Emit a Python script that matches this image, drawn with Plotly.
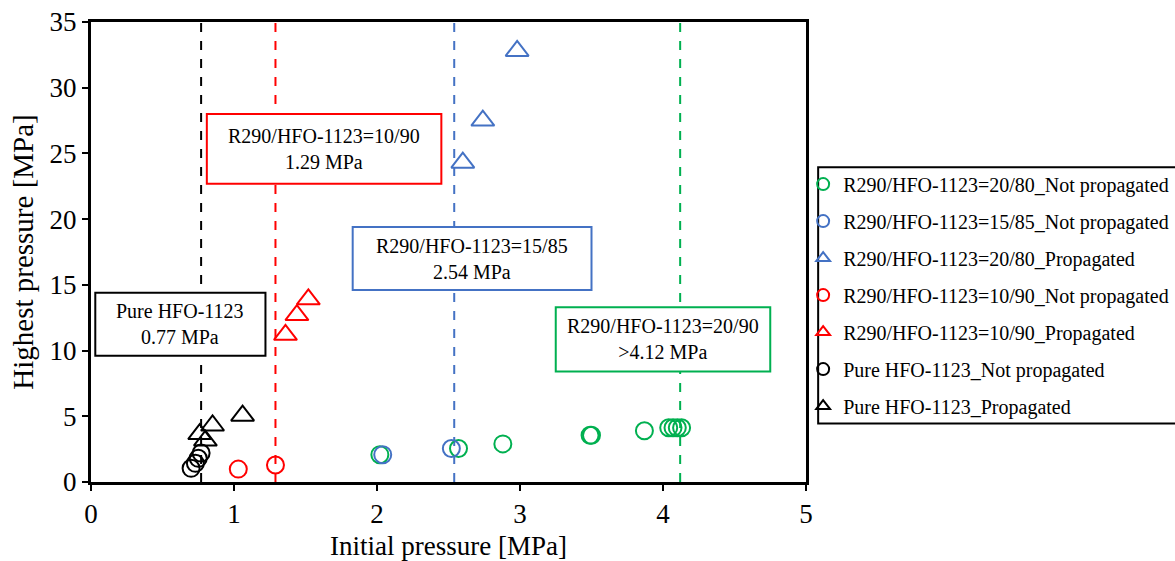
import plotly.graph_objects as go

# ---- measured data: initial pressure [MPa] vs highest pressure [MPa] ----
g_np_x = [2.02, 2.57, 2.88, 3.49, 3.50, 3.87, 4.04, 4.07, 4.10, 4.13]
g_np_y = [2.08, 2.55, 2.90, 3.55, 3.55, 3.90, 4.13, 4.13, 4.13, 4.13]

b_np_x = [2.04, 2.52]
b_np_y = [2.08, 2.55]

b_p_x = [2.60, 2.74, 2.98]
b_p_y = [24.3, 27.5, 32.8]

r_np_x = [1.03, 1.29]
r_np_y = [0.98, 1.29]

r_p_x = [1.36, 1.44, 1.52]
r_p_y = [11.2, 12.7, 13.9]

k_np_x = [0.70, 0.73, 0.75, 0.77]
k_np_y = [1.04, 1.42, 1.80, 2.20]

k_p_x = [0.76, 0.80, 0.85, 1.06]
k_p_y = [3.65, 3.15, 4.30, 5.05]

# lower flammability thresholds (vertical dashed lines)
limit_vals = [0.77, 1.29, 2.54, 4.12]
limit_colors = ["#000000", "#FF0000", "#4472C4", "#00B050"]
limit_texts = [
    "Pure HFO-1123<br>0.77 MPa",
    "R290/HFO-1123=10/90<br>1.29 MPa",
    "R290/HFO-1123=15/85<br>2.54 MPa",
    "R290/HFO-1123=20/90<br>>4.12 MPa",
]
# label box extents (x0, x1, y0, y1) in axis units
limit_boxes = [
    (0.03, 1.22, 9.6, 14.4),
    (0.81, 2.45, 22.7, 28.0),
    (1.83, 3.50, 14.6, 19.4),
    (3.25, 4.75, 8.4, 13.3),
]

GREEN, BLUE, RED, BLACK = "#00B050", "#4472C4", "#FF0000", "#000000"
FONT = "Liberation Serif"

series = [
    ("R290/HFO-1123=20/80_Not propagated", g_np_x, g_np_y, GREEN, "circle-open"),
    ("R290/HFO-1123=15/85_Not propagated", b_np_x, b_np_y, BLUE, "circle-open"),
    ("R290/HFO-1123=20/80_Propagated", b_p_x, b_p_y, BLUE, "triangle-up-open"),
    ("R290/HFO-1123=10/90_Not propagated", r_np_x, r_np_y, RED, "circle-open"),
    ("R290/HFO-1123=10/90_Propagated", r_p_x, r_p_y, RED, "triangle-up-open"),
    ("Pure HFO-1123_Not propagated", k_np_x, k_np_y, BLACK, "circle-open"),
    ("Pure HFO-1123_Propagated", k_p_x, k_p_y, BLACK, "triangle-up-open"),
]

fig = go.Figure()
for i, (name, xs, ys, col, sym) in enumerate(series):
    fig.add_trace(go.Scatter(
        x=xs, y=ys, mode="markers", name=name, legendgroup=f"g{i}",
        marker=dict(symbol=sym, color=col, size=17 if "circle" in sym else 20,
                    line=dict(color=col, width=2)),
    ))

for v, col in zip(limit_vals, limit_colors):
    fig.add_shape(type="line", x0=v, x1=v, y0=0, y1=35, xref="x", yref="y",
                  line=dict(color=col, width=2, dash="dash"), layer="below")

for (x0, x1, y0, y1), col, txt in zip(limit_boxes, limit_colors, limit_texts):
    fig.add_shape(type="rect", x0=x0, x1=x1, y0=y0, y1=y1, xref="x", yref="y",
                  line=dict(color=col, width=2), fillcolor="white", layer="above")
    fig.add_annotation(x=(x0 + x1) / 2, y=(y0 + y1) / 2, xref="x", yref="y",
                       text=txt, showarrow=False, align="center",
                       font=dict(family=FONT, size=20, color="black"))

# legend frame (open on the right where it runs off the page)
fig.add_shape(type="rect", xref="paper", yref="paper",
              x0=1.017, x1=1.52, y0=0.127, y1=0.684,
              line=dict(color="black", width=2), fillcolor="rgba(0,0,0,0)")

axis_common = dict(
    showline=True, linewidth=3, linecolor="black", mirror=True,
    showgrid=False, zeroline=False, ticks="outside", ticklen=6, tickwidth=2,
    tickcolor="black", tickfont=dict(family=FONT, size=27, color="black"),
)

fig.update_xaxes(range=[0, 5], dtick=1, tick0=0,
                 title=dict(text="Initial pressure [MPa]", standoff=10,
                            font=dict(family=FONT, size=27, color="black")),
                 **axis_common)
fig.update_yaxes(range=[0, 35], dtick=5, tick0=0,
                 title=dict(text="Highest pressure [MPa]", standoff=8,
                            font=dict(family=FONT, size=29, color="black")),
                 **axis_common)

fig.update_layout(
    width=1175, height=561,
    margin=dict(l=91, r=369, t=22, b=79, autoexpand=False),
    plot_bgcolor="white", paper_bgcolor="white",
    font=dict(family=FONT, color="black"),
    legend=dict(
        x=0.996, xanchor="left", y=0.690, yanchor="top",
        font=dict(family=FONT, size=20, color="black"),
        borderwidth=0, bgcolor="rgba(0,0,0,0)",
        itemsizing="constant", traceorder="grouped", tracegroupgap=8,
        itemwidth=30,
    ),
)

fig.write_html("out.html")
